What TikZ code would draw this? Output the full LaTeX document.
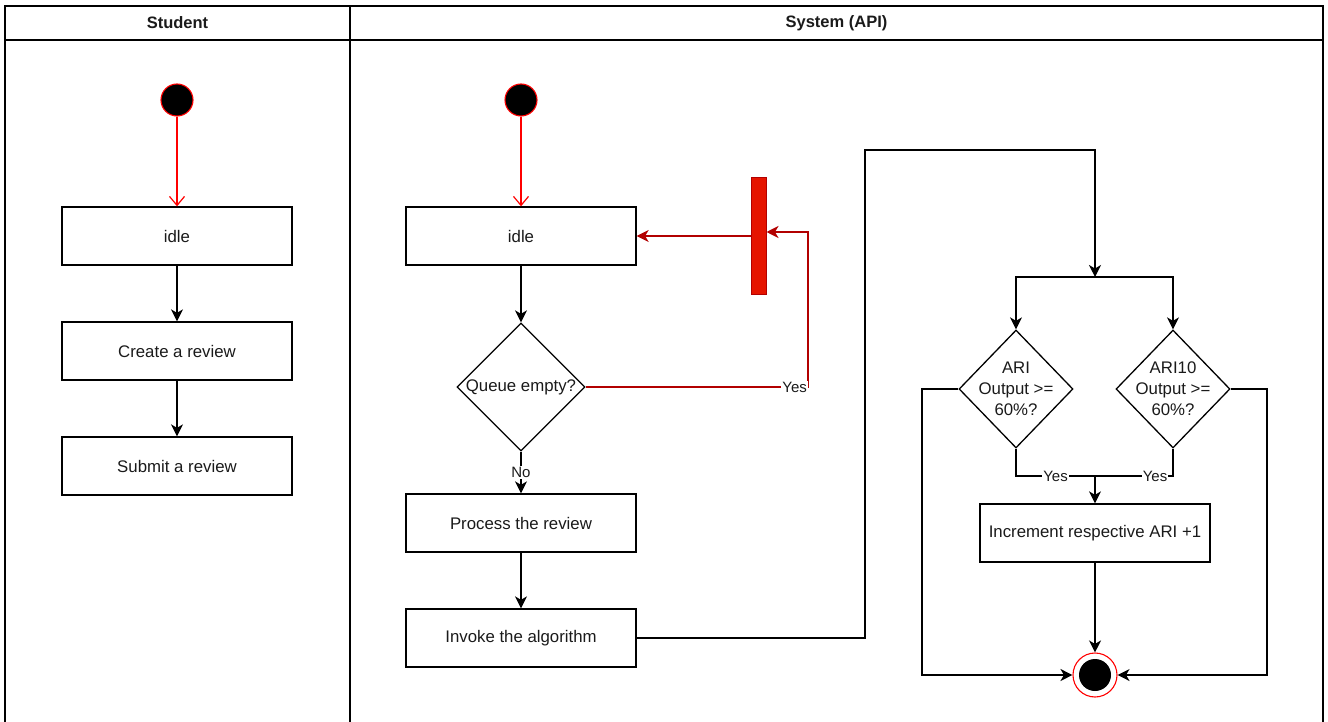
\documentclass[tikz,border=0pt]{standalone}
\usepackage{fontspec}
\setmainfont{Liberation Sans}
\usetikzlibrary{arrows.meta,shapes.geometric}
\definecolor{startred}{HTML}{FF0000}
\definecolor{barfill}{HTML}{E51400}
\definecolor{darkred}{HTML}{B20000}
\definecolor{ink}{HTML}{1A1A1A}
\tikzset{
  lane/.style={line width=1.4pt, draw=black},
  stepbox/.style={draw=black, line width=1.3pt, minimum width=230pt, minimum height=58pt,
    inner sep=0pt, font=\fontsize{16.8}{19}\selectfont, text=ink},
  decision/.style={diamond, draw=black, line width=1.3pt, inner sep=0pt, aspect=1},
  startdot/.style={circle, fill=black, draw=startred, line width=1.1pt, minimum size=32pt, inner sep=0pt},
  arr/.style={draw=black, line width=1.3pt, -{Stealth[length=12pt,width=12pt,inset=3.5pt]}},
  redarr/.style={draw=startred, line width=1.2pt, -{Straight Barb[length=9pt,width=15pt]}},
  loop/.style={draw=darkred, line width=1.2pt},
  looparr/.style={loop, -{Stealth[length=12pt,width=12pt,inset=3.5pt]}},
  lbl/.style={fill=white, inner sep=1pt, font=\fontsize{15}{17}\selectfont, text=ink},
  dtext/.style={align=center, font=\fontsize{16.8}{21}\selectfont, text=ink},
  head/.style={font=\bfseries\fontsize{16.5}{19}\selectfont, text=ink}
}
\begin{document}
\begin{tikzpicture}[x=1pt,y=-1pt]
\useasboundingbox (0,0) rectangle (1328,722);

% swimlane frame
\draw[lane] (5,722) -- (5,6) -- (1323,6) -- (1323,722);
\draw[lane] (5,40) -- (1323,40);
\draw[lane] (350,6) -- (350,722);
\node[head] (hstudent) at (177.5,23) {Student};
\node[head] (hsystem) at (836.5,23) {System (API)};

% Student lane
\node[startdot] (s1) at (177,100) {};
\node[stepbox] (idle1) at (177,236) {idle};
\node[stepbox] (create) at (177,351) {Create a review};
\node[stepbox] (submit) at (177,466) {Submit a review};
\draw[redarr] (s1) -- (idle1);
\draw[arr] (idle1) -- (create);
\draw[arr] (create) -- (submit);

% System lane: queue handling
\node[startdot] (s2) at (521,100) {};
\node[stepbox] (idle2) at (521,236) {idle};
\node[decision, minimum width=128pt, minimum height=128pt] (queue) at (521,387) {};
\node[dtext] (queuetxt) at (queue.center) {Queue empty?};
\node[stepbox] (proc) at (521,523) {Process the review};
\node[stepbox] (invoke) at (521,638) {Invoke the algorithm};
\node[draw=darkred, fill=barfill, line width=1pt, minimum width=15pt, minimum height=116pt, inner sep=0pt] (bar) at (758.5,236) {};
\coordinate (yescorner) at (808,387);

\draw[redarr] (s2) -- (idle2);
\draw[arr] (idle2) -- (queue);
\draw[arr] (queue) -- node[lbl] (nolbl) {No} (proc);
\draw[arr] (proc) -- (invoke);
\draw[looparr] (bar) -- (idle2);
\draw[looparr] (queue.east) -- node[lbl, pos=0.94] (yeslbl) {Yes} (yescorner) |- ([yshift=4pt]bar.east);

% System lane: readability checks
\coordinate (up1) at (865,150);
\coordinate (fork) at (1095,277);
\node[decision, minimum width=114pt, minimum height=118pt] (ari) at (1016,389) {};
\node[dtext] (aritxt) at (ari.center) {ARI\\Output >=\\60\%?};
\node[decision, minimum width=114pt, minimum height=118pt] (ari10) at (1173,389) {};
\node[dtext] (ari10txt) at (ari10.center) {ARI10\\Output >=\\60\%?};
\coordinate (merge) at (1095,476);
\node[stepbox] (inc) at (1095,533) {Increment respective ARI +1};
\node[circle, draw=startred, fill=white, line width=1.1pt, minimum size=44pt, inner sep=0pt] (endc) at (1095,675) {};
\node[circle, fill=black, minimum size=32pt, inner sep=0pt] (endin) at (endc.center) {};
\coordinate (leftrun) at (922,675);
\coordinate (rightrun) at (1267,675);

\draw[arr] (invoke.east) -| (up1) -| (fork);
\draw[arr] (fork) -| (ari);
\draw[arr] (fork) -| (ari10);
\draw[draw=black, line width=1.3pt] (ari.south) |- node[lbl, pos=0.75] (yes2) {Yes} (merge);
\draw[draw=black, line width=1.3pt] (ari10.south) |- node[lbl, pos=0.615] (yes3) {Yes} (merge);
\draw[arr] (merge) -- (inc);
\draw[arr] (inc) -- (endc);
\draw[arr] (ari.west) -| (leftrun) -- (endc);
\draw[arr] (ari10.east) -| (rightrun) -- (endc);
\end{tikzpicture}
\end{document}
